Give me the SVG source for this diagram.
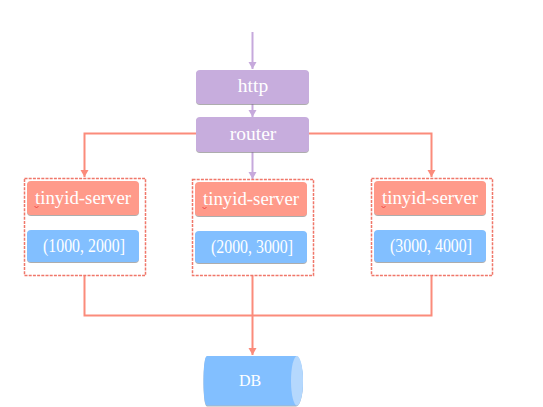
<svg xmlns="http://www.w3.org/2000/svg" width="543" height="407" viewBox="0 0 543 407">
<defs>
<marker id="ap" markerUnits="userSpaceOnUse" markerWidth="8" markerHeight="9" refX="7" refY="4" orient="auto"><path d="M0 0L7 4L0 8Z" fill="#c6a9dc"/></marker>
<marker id="ar" markerUnits="userSpaceOnUse" markerWidth="8" markerHeight="9" refX="7" refY="4" orient="auto"><path d="M0 0L7 4L0 8Z" fill="#fb8b7b"/></marker>
<filter id="s" x="-5%" y="-5%" width="110%" height="120%"><feDropShadow dx="0" dy="1" stdDeviation="0.5" flood-color="#777" flood-opacity="0.6"/></filter>
</defs>
<style>
text{font-family:"Liberation Serif","Noto Serif",serif;fill:#fff;text-anchor:middle}
.t{font-size:19.500px}
.pur{fill:#c7addd;filter:url(#s)}
.red{fill:#ff9a8a;filter:url(#s)}
.blu{fill:#82bfff;filter:url(#s)}
.dash{fill:#fff;stroke:#f0776a;stroke-width:1.500;stroke-dasharray:3 1.200}
.lp{fill:none;stroke:#c6a9dc;stroke-width:2}
.lr{fill:none;stroke:#fb8b7b;stroke-width:2}
.sq{fill:none;stroke:#e33;stroke-width:0.800}
</style>
<rect width="543" height="407" fill="#fff"/>
<g id="connectors">
<path class="lp" d="M252.500 32V69" marker-end="url(#ap)"/>
<path class="lp" d="M252.500 104V117" marker-end="url(#ap)"/>
<path class="lp" d="M252.500 152V179" marker-end="url(#ap)"/>
<path class="lr" d="M196 133.500H84.500V177" marker-end="url(#ar)"/>
<path class="lr" d="M309 133.500H431.500V177" marker-end="url(#ar)"/>
<path class="lr" d="M84.500 275V315.500H431.500V275"/>
<path class="lr" d="M252.500 275V355" marker-end="url(#ar)"/>
</g>
<g id="http"><rect class="pur" x="196" y="70" width="113" height="34" rx="4"/><text class="t" x="253" y="92">http</text></g>
<g id="router"><rect class="pur" x="196" y="117" width="113" height="35" rx="4"/><text class="t" x="253" y="140">router</text></g>
<g id="group-1"><rect class="dash" x="24.500" y="178.500" width="121" height="97"/>
<rect class="red" x="27" y="181" width="112" height="34" rx="4"/><text class="t" x="83" y="204" textLength="96" lengthAdjust="spacingAndGlyphs">tinyid-server</text><path class="sq" d="M34.500 206l2 2l2-2"/>
<rect class="blu" x="27" y="230" width="112" height="32" rx="4"/><text class="t" x="84" y="252" textLength="82" lengthAdjust="spacingAndGlyphs">(1000, 2000]</text></g>
<g id="group-2"><rect class="dash" x="192.500" y="179.500" width="121" height="96"/>
<rect class="red" x="195" y="182" width="112" height="34" rx="4"/><text class="t" x="251" y="205" textLength="96" lengthAdjust="spacingAndGlyphs">tinyid-server</text><path class="sq" d="M202.500 207l2 2l2-2"/>
<rect class="blu" x="195" y="231" width="112" height="32" rx="4"/><text class="t" x="252" y="253" textLength="82" lengthAdjust="spacingAndGlyphs">(2000, 3000]</text></g>
<g id="group-3"><rect class="dash" x="371.500" y="178.500" width="121" height="97"/>
<rect class="red" x="374" y="181" width="112" height="34" rx="4"/><text class="t" x="430" y="204" textLength="96" lengthAdjust="spacingAndGlyphs">tinyid-server</text><path class="sq" d="M381.500 206l2 2l2-2"/>
<rect class="blu" x="374" y="230" width="112" height="32" rx="4"/><text class="t" x="431" y="252" textLength="82" lengthAdjust="spacingAndGlyphs">(3000, 4000]</text></g>
<g id="db">
<path d="M207 356H296C300 356 303 368 303 381C303 394 300 405.500 296 405.500H207C204.500 405.500 203.500 394 203.500 381C203.500 368 204.500 356 207 356Z" fill="#82bfff" filter="url(#s)"/>
<ellipse cx="297" cy="380.800" rx="6" ry="24.800" fill="#b5d8fd"/>
<text x="250" y="386" style="font-size:16px">DB</text></g>
</svg>
